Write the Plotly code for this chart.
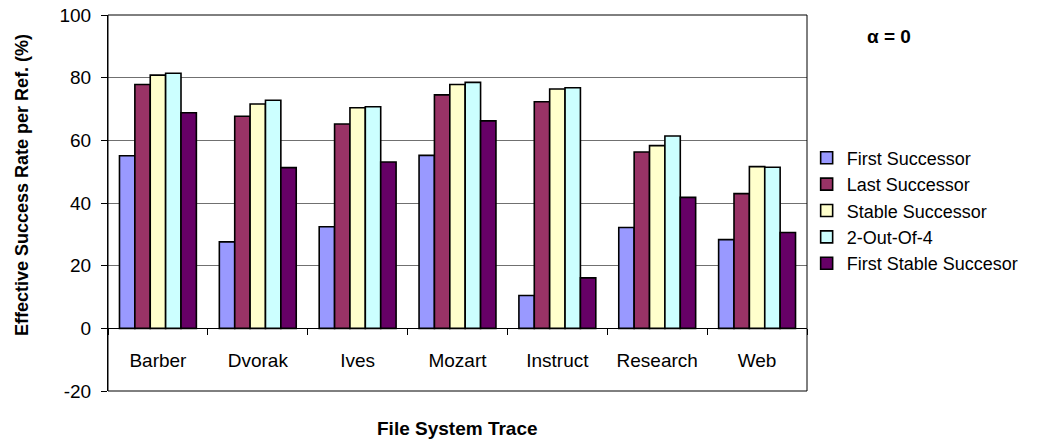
import plotly.graph_objects as go

categories = ["Barber", "Dvorak", "Ives", "Mozart", "Instruct", "Research", "Web"]
first_successor = [55.1, 27.6, 32.4, 55.2, 10.5, 32.2, 28.3]
last_successor = [77.8, 67.7, 65.2, 74.5, 72.3, 56.3, 43.0]
stable_successor = [80.8, 71.6, 70.4, 77.8, 76.4, 58.3, 51.6]
two_out_of_four = [81.4, 72.8, 70.7, 78.5, 76.8, 61.4, 51.4]
first_stable_succesor = [68.8, 51.3, 53.1, 66.2, 16.1, 41.8, 30.6]

y_tick_values = [-20, 0, 20, 40, 60, 80, 100]
y_tick_labels = ["-20", "0", "20", "40", "60", "80", "100"]

series = [
    ("First Successor", first_successor, "#9999FF"),
    ("Last Successor", last_successor, "#993366"),
    ("Stable Successor", stable_successor, "#FFFFCC"),
    ("2-Out-Of-4", two_out_of_four, "#CCFFFF"),
    ("First Stable Succesor", first_stable_succesor, "#660066"),
]

FONT = "Arial, Liberation Sans, sans-serif"

fig = go.Figure()
for name, vals, color in series:
    fig.add_trace(go.Bar(
        x=categories, y=vals, name=name,
        marker=dict(color=color, line=dict(color="black", width=1.6)),
    ))

fig.update_layout(
    width=1038, height=446,
    margin=dict(l=108, r=231, t=15, b=55, autoexpand=False),
    paper_bgcolor="white", plot_bgcolor="white",
    barmode="group", bargap=0.23, bargroupgap=0,
    font=dict(family=FONT, color="black", size=17),
    showlegend=True,
    legend=dict(x=0.9995, xanchor="left", y=0.48, yanchor="middle",
                font=dict(family=FONT, size=18, color="black"),
                bgcolor="rgba(0,0,0,0)", itemwidth=30),
    xaxis=dict(
        type="category", anchor="free", position=1/6, automargin=False,
        showline=True, linecolor="black", linewidth=1,
        ticks="outside", tickson="boundaries", ticklen=6, tickcolor="black",
        showgrid=False, ticklabelstandoff=15,
        tickfont=dict(family=FONT, size=19, color="black"),
    ),
    yaxis=dict(
        range=[-20, 100], tickvals=y_tick_values, ticktext=y_tick_labels,
        automargin=False, ticklabeloverflow="allow", ticklabelstandoff=6,
        showgrid=True, gridcolor="#707070", gridwidth=1,
        zeroline=False,
        showline=True, linecolor="black", linewidth=1,
        ticks="outside", ticklen=6, tickcolor="black",
        tickfont=dict(family=FONT, size=19, color="black"),
    ),
    shapes=[dict(type="rect", xref="paper", yref="paper", x0=0, x1=1, y0=0, y1=1,
                 line=dict(color="black", width=1), layer="above")],
    annotations=[
        dict(text="<b>α = 0</b>", xref="paper", yref="paper",
             x=(889 - 108) / 699, y=(391 - 37) / 376,
             xanchor="center", yanchor="middle", showarrow=False,
             font=dict(family=FONT, size=19, color="black")),
        dict(text="<b>File System Trace</b>", xref="paper", yref="paper",
             x=(457 - 108) / 699, y=(391 - 428) / 376,
             xanchor="center", yanchor="middle", showarrow=False,
             font=dict(family=FONT, size=19, color="black")),
        dict(text="<b>Effective Success Rate per Ref. (%)</b>", xref="paper", yref="paper",
             x=(22 - 108) / 699, y=(391 - 185) / 376, textangle=-90,
             xanchor="center", yanchor="middle", showarrow=False,
             font=dict(family=FONT, size=18, color="black")),
    ],
)

fig.write_html("out.html", config={"displayModeBar": False},
               post_script="document.body.style.margin='0';")
